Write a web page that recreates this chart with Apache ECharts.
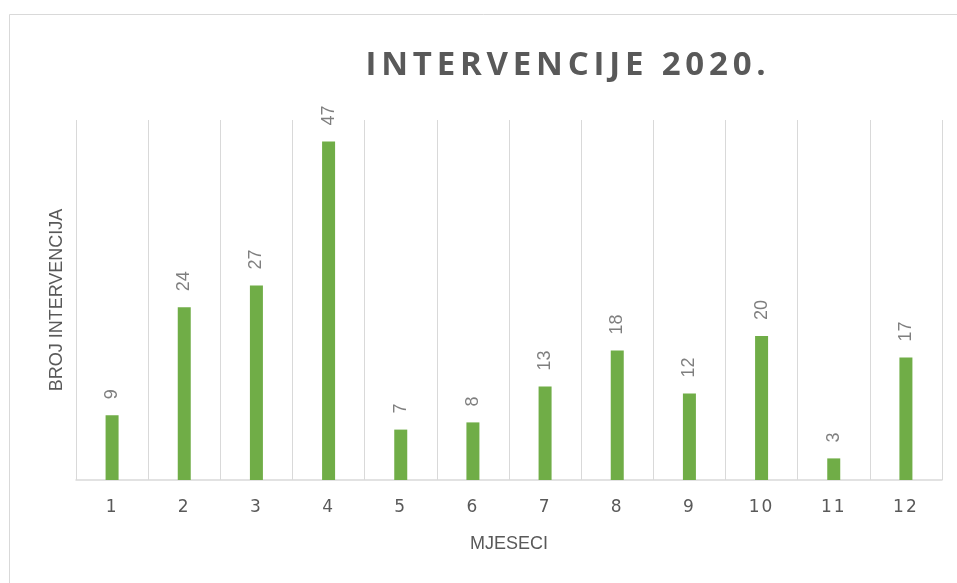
<!DOCTYPE html>
<html>
<head>
<meta charset="utf-8">
<script src="https://cdn.jsdelivr.net/npm/echarts@6/dist/echarts.min.js"></script>
<style>html,body{margin:0;padding:0;background:#fff}#c{width:957px;height:583px}</style>
</head>
<body>
<div id="c"></div>
<script>
const titleText = 'INTERVENCIJE 2020.';
const months = ['1','2','3','4','5','6','7','8','9','10','11','12'];
const interventions = [9, 24, 27, 47, 7, 8, 13, 18, 12, 20, 3, 17];
const yAxisName = 'BROJ INTERVENCIJA';
const xAxisName = 'MJESECI';

// letter spacing (canvas) for title and category labels
const origFill = CanvasRenderingContext2D.prototype.fillText;
CanvasRenderingContext2D.prototype.fillText = function (t, x, y, w) {
  if ('letterSpacing' in this) {
    const f = this.font || '';
    if (f.indexOf('33px') >= 0) this.letterSpacing = '4.8px';
    else if (f.indexOf('DejaVu') >= 0) this.letterSpacing = '2px';
    else this.letterSpacing = '0px';
  }
  return w === undefined ? origFill.call(this, t, x, y) : origFill.call(this, t, x, y, w);
};

const chart = echarts.init(document.getElementById('c'), null, {renderer: 'canvas'});
chart.setOption({
  animation: false,
  backgroundColor: '#ffffff',
  title: {
    text: titleText,
    left: 563,
    top: 44,
    textAlign: 'center',
    textStyle: {fontFamily: 'Open Sans', fontWeight: 'bold', fontSize: 33, color: '#595959'}
  },
  graphic: [{
    type: 'rect', z: -10, silent: true,
    shape: {x: 9.5, y: 14.5, width: 960, height: 600},
    style: {fill: 'none', stroke: '#d9d9d9', lineWidth: 1}
  }],
  grid: {left: 76, right: 15, top: 120, bottom: 103},
  xAxis: {
    type: 'category',
    data: months,
    name: xAxisName,
    nameLocation: 'middle',
    nameGap: 55,
    nameTextStyle: {fontFamily: 'Liberation Sans', fontSize: 18, color: '#595959'},
    axisLine: {lineStyle: {color: '#d9d9d9', width: 1.5}},
    axisTick: {show: false},
    axisLabel: {fontFamily: 'DejaVu Sans', fontSize: 17, color: '#595959', margin: 19},
    splitLine: {show: true, lineStyle: {color: '#d9d9d9', width: 1}}
  },
  yAxis: {
    type: 'value',
    min: 0, max: 50,
    name: yAxisName,
    nameLocation: 'middle',
    nameGap: 10,
    nameRotate: 90,
    nameTextStyle: {fontFamily: 'Liberation Sans', fontSize: 18, color: '#595959'},
    axisLine: {show: false},
    axisTick: {show: false},
    axisLabel: {show: false},
    splitLine: {show: false}
  },
  series: [{
    type: 'bar',
    data: interventions,
    barWidth: 13,
    itemStyle: {color: '#70ad47'},
    label: {
      show: true,
      position: 'top',
      rotate: 90,
      align: 'left',
      verticalAlign: 'middle',
      distance: 16,
      fontFamily: 'Liberation Sans',
      fontSize: 18,
      color: '#7f7f7f'
    }
  }]
});
</script>
</body>
</html>
